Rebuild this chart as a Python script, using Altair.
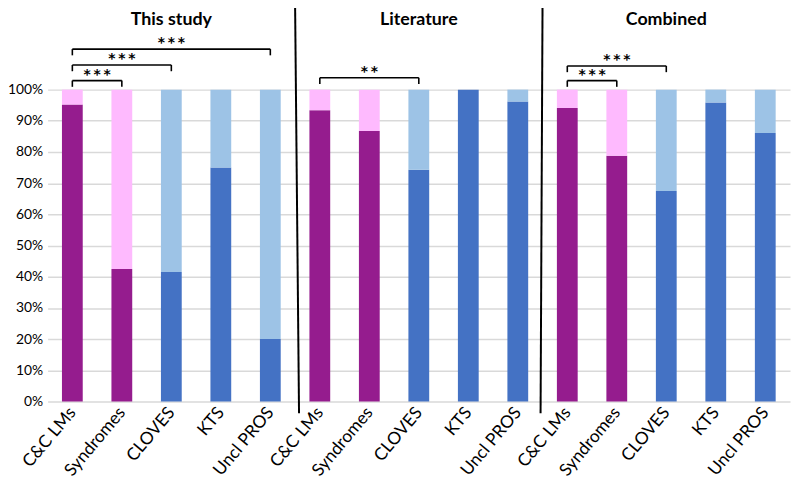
import altair as alt
import pandas as pd

categories = ["C&C LMs", "Syndromes", "CLOVES", "KTS", "Uncl PROS"]
groups = ["This study", "Literature", "Combined"]
lower_this = [95.2, 42.5, 41.5, 75.0, 20.0]
lower_lit = [93.4, 86.7, 74.3, 100.0, 96.2]
lower_comb = [94.1, 78.8, 67.5, 95.9, 86.1]
kind = ["purple", "purple", "blue", "blue", "blue"]

# significance brackets: (group, from category index, to category index, level %, label)
brk_group = [0, 0, 0, 1, 2, 2]
brk_from = [0, 0, 0, 0, 0, 0]
brk_to = [1, 2, 4, 2, 1, 2]
brk_level = [102.9, 107.9, 113.0, 103.8, 102.9, 107.6]
brk_label = ["***", "***", "***", "**", "***", "***"]

DARK = {"purple": "#951C8E", "blue": "#4472C4"}
LIGHT = {"purple": "#FEBAFE", "blue": "#9DC3E6"}

rows = []
lowers = [lower_this, lower_lit, lower_comb]
for gi, g in enumerate(groups):
    for ci, c in enumerate(categories):
        pos = gi * 5 + ci
        v = lowers[gi][ci]
        rows.append(dict(pos=pos, cat=c, y0=0, y1=v, color=DARK[kind[ci]]))
        rows.append(dict(pos=pos, cat=c, y0=v, y1=100, color=LIGHT[kind[ci]]))
bars = pd.DataFrame(rows)
bars["xa"] = bars["pos"] - 0.21
bars["xb"] = bars["pos"] + 0.21

xscale = alt.Scale(domain=[-0.5, 14.5], nice=False, zero=False)
yscale = alt.Scale(domain=[0, 100], nice=False)

label_expr = "[" + ",".join("'" + c.replace("'", "\\'") + "'" for c in categories * 3) + "][datum.value]"

xaxis = alt.Axis(
    values=list(range(15)), labelExpr=label_expr, labelAngle=-50,
    labelAlign="right", labelBaseline="middle", labelFontSize=17.5,
    labelFont="Lato", labelColor="#000000", labelPadding=8,
    ticks=False, domain=False, grid=False, title=None, labelOverlap=False)
yaxis = alt.Axis(
    values=list(range(0, 101, 10)), tickCount=11, labelExpr="datum.value + '%'",
    labelFontSize=14, labelFont="Lato", labelColor="#000000", labelPadding=5,
    labelOverlap=False, ticks=False, domain=False, grid=True,
    gridColor="#D9D9D9", gridWidth=1.5, title=None)


def X(f):
    return alt.X(f, scale=xscale, axis=xaxis)


def Y(f):
    return alt.Y(f, scale=yscale, axis=yaxis)


bar_layer = alt.Chart(bars).mark_bar().encode(
    x=X("xa:Q"), x2="xb:Q", y=Y("y0:Q"), y2="y1:Q",
    color=alt.Color("color:N", scale=None),
)

# brackets
hl, vl, tl = [], [], []
for g, a, b, lvl, lab in zip(brk_group, brk_from, brk_to, brk_level, brk_label):
    xa = g * 5 + a
    xb = g * 5 + b
    hl.append(dict(x=xa, x2=xb, y=lvl, y2=lvl))
    vl.append(dict(x=xa, x2=xa, y=lvl, y2=lvl - 2.0))
    vl.append(dict(x=xb, x2=xb, y=lvl, y2=lvl - 2.0))
    tl.append(dict(x=(xa + xb) / 2, y=lvl + 2.8, t=lab))
brk_df = pd.DataFrame(hl + vl)
brk_layer = alt.Chart(brk_df).mark_rule(color="#000000", strokeWidth=1.6).encode(
    x=X("x:Q"), x2="x2:Q", y=Y("y:Q"), y2="y2:Q")
star_layer = alt.Chart(pd.DataFrame(tl)).transform_calculate(
    disp="replace(datum.t, /\\*/g, '*\u2009')"
).mark_text(
    font="DejaVu Sans", fontSize=14, fontWeight="bold", color="#000000",
    baseline="middle", align="center", dy=3).encode(
    x=X("x:Q"), y=Y("y:Q"), text="disp:N")

# group titles
title_df = pd.DataFrame(dict(x=[2, 7, 12], y=[120.6] * 3, t=groups))
title_layer = alt.Chart(title_df).mark_text(
    font="Lato", fontSize=18, fontWeight="bold", color="#000000",
    baseline="alphabetic", align="center").encode(
    x=X("x:Q"), y=Y("y:Q"), text="t:N")

# divider lines
div_df = pd.DataFrame(dict(x=[4.5, 9.5], x2=[4.58, 9.46], y=[128.0, 128.0], y2=[-3.8, -3.8]))
div_layer = alt.Chart(div_df).mark_rule(color="#000000", strokeWidth=2).encode(
    x=X("x:Q"), x2="x2:Q", y=Y("y:Q"), y2="y2:Q")

chart = alt.layer(bar_layer, brk_layer, star_layer, title_layer, div_layer).properties(
    width=750, height=315,
    background="#ffffff",
    autosize=alt.AutoSizeParams(type="none"),
    padding={"left": 40, "top": 80, "right": 2, "bottom": 87},
).configure_view(stroke=None)

chart.save("out.html", embed_options={"renderer": "svg", "actions": False})
